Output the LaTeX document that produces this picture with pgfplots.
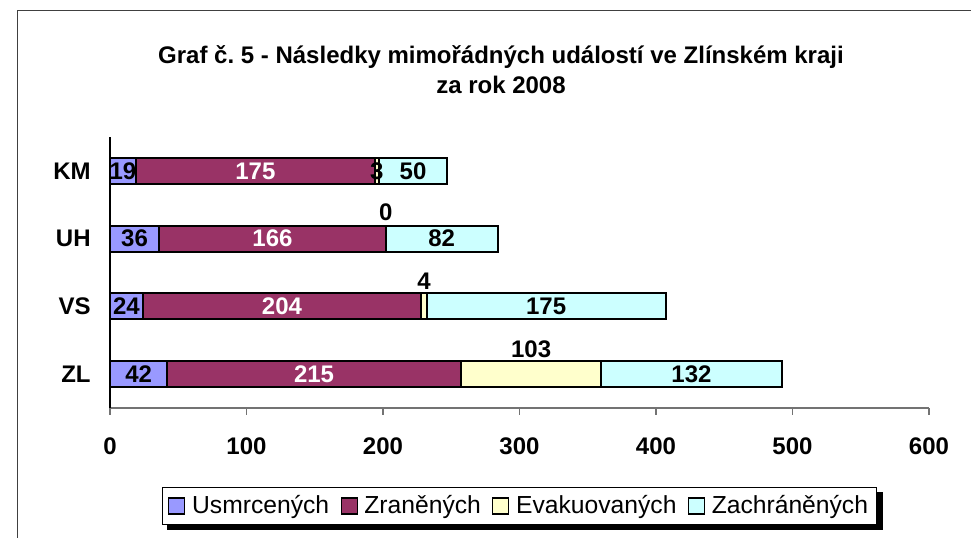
\documentclass[border=0pt]{standalone}
\usepackage{fontspec}
\setmainfont{Liberation Sans}
\usepackage{pgfplots}
\pgfplotsset{compat=1.18}
\definecolor{cU}{HTML}{9999FF}
\definecolor{cZr}{HTML}{993366}
\definecolor{cE}{HTML}{FFFFCC}
\definecolor{cZa}{HTML}{CCFFFF}
\newcommand\fnt{\fontsize{18}{22.5}\selectfont}
\newcommand\lfnt{\fontsize{18.5}{22.5}\selectfont}
\tikzset{lbl/.style={font=\fnt\bfseries, inner sep=0pt}}
\frenchspacing
\begin{document}
\begin{tikzpicture}
\path[use as bounding box] (0,0) rectangle (728.25pt,403.5pt);
\draw[line width=1.2pt, black!75] (13.1pt,0pt) -- (13.1pt,395.6pt) -- (728.25pt,395.6pt);
\node[font=\fnt\bfseries, align=center] at (375.75pt,351pt) {Graf č. 5 - Následky mimořádných událostí ve Zlínském kraji\\za rok 2008};
\begin{axis}[
  at={(82.5pt,97.5pt)}, anchor=south west,
  scale only axis, width=614.25pt, height=203.25pt,
  xbar stacked, bar width=19.5pt,
  xmin=0, xmax=600, ymin=-0.5, ymax=3.5,
  xtick={0,100,...,600},
  ytick={0,1,2,3}, yticklabels={ZL,VS,UH,KM},
  axis lines=left, axis line style={-},
  x axis line style={draw=black!55, line width=0.9pt},
  y axis line style={draw=black, line width=0.9pt},
  tick align=outside, major tick length=5pt,
  xtick style={draw=black!55, line width=0.9pt},
  ytick style={draw=none},
  ticklabel style={font=\fnt\bfseries},
  /pgf/number format/assume math mode=true,
  xticklabel style={yshift=-13.5pt},
  yticklabel style={xshift=-6pt},
  clip=false,
  legend columns=4,
  legend image code/.code={\draw[#1, draw=black, line width=0.9pt] (0pt,-6pt) rectangle (12pt,6pt);},
  legend style={name=leg, at={(0.5,0)}, anchor=north, yshift=-59pt,
    draw=black, line width=0.75pt, fill=white,
    font=\lfnt, inner xsep=4.5pt, inner ysep=4.5pt,
    nodes={inner sep=2pt},
    /tikz/every odd column/.append style={column sep=3pt},
    /tikz/every even column/.append style={column sep=6.5pt}},
  every axis plot/.append style={draw=black, line width=1.5pt},
]
\addplot[fill=cU] coordinates {(42,0) (24,1) (36,2) (19,3)};
\addplot[fill=cZr] coordinates {(215,0) (204,1) (166,2) (175,3)};
\addplot[fill=cE] coordinates {(103,0) (4,1) (0,2) (3,3)};
\addplot[fill=cZa] coordinates {(132,0) (175,1) (82,2) (50,3)};
\legend{Usmrcených,Zraněných,Evakuovaných,Zachráněných}
\coordinate (u0) at (axis cs:21,0);
\coordinate (u1) at (axis cs:12,1);
\coordinate (u2) at (axis cs:18,2);
\coordinate (u3) at (axis cs:9.5,3);
\coordinate (r0) at (axis cs:149.5,0);
\coordinate (r1) at (axis cs:126,1);
\coordinate (r2) at (axis cs:119,2);
\coordinate (r3) at (axis cs:106.5,3);
\coordinate (e0) at (axis cs:308.5,0);
\coordinate (e1) at (axis cs:230,1);
\coordinate (e2) at (axis cs:202,2);
\coordinate (e3) at (axis cs:195.5,3);
\coordinate (z0) at (axis cs:426,0);
\coordinate (z1) at (axis cs:319.5,1);
\coordinate (z2) at (axis cs:243,2);
\coordinate (z3) at (axis cs:222,3);
\end{axis}
\fill[black] ([xshift=4pt]leg.south west) rectangle ([xshift=4pt,yshift=-4pt]leg.south east);
\fill[black] ([yshift=-4pt]leg.north east) rectangle ([xshift=4pt,yshift=-4pt]leg.south east);
\node[lbl] at (u0) {42};
\node[lbl] at (u1) {24};
\node[lbl] at (u2) {36};
\node[lbl] at (u3) {19};
\node[lbl,white] at (r0) {215};
\node[lbl,white] at (r1) {204};
\node[lbl,white] at (r2) {166};
\node[lbl,white] at (r3) {175};
\node[lbl,yshift=19pt] at (e0) {103};
\node[lbl,yshift=19pt] at (e1) {4};
\node[lbl,yshift=20pt] at (e2) {0};
\node[lbl] at (e3) {3};
\node[lbl] at (z0) {132};
\node[lbl] at (z1) {175};
\node[lbl] at (z2) {82};
\node[lbl] at (z3) {50};
\end{tikzpicture}
\end{document}
